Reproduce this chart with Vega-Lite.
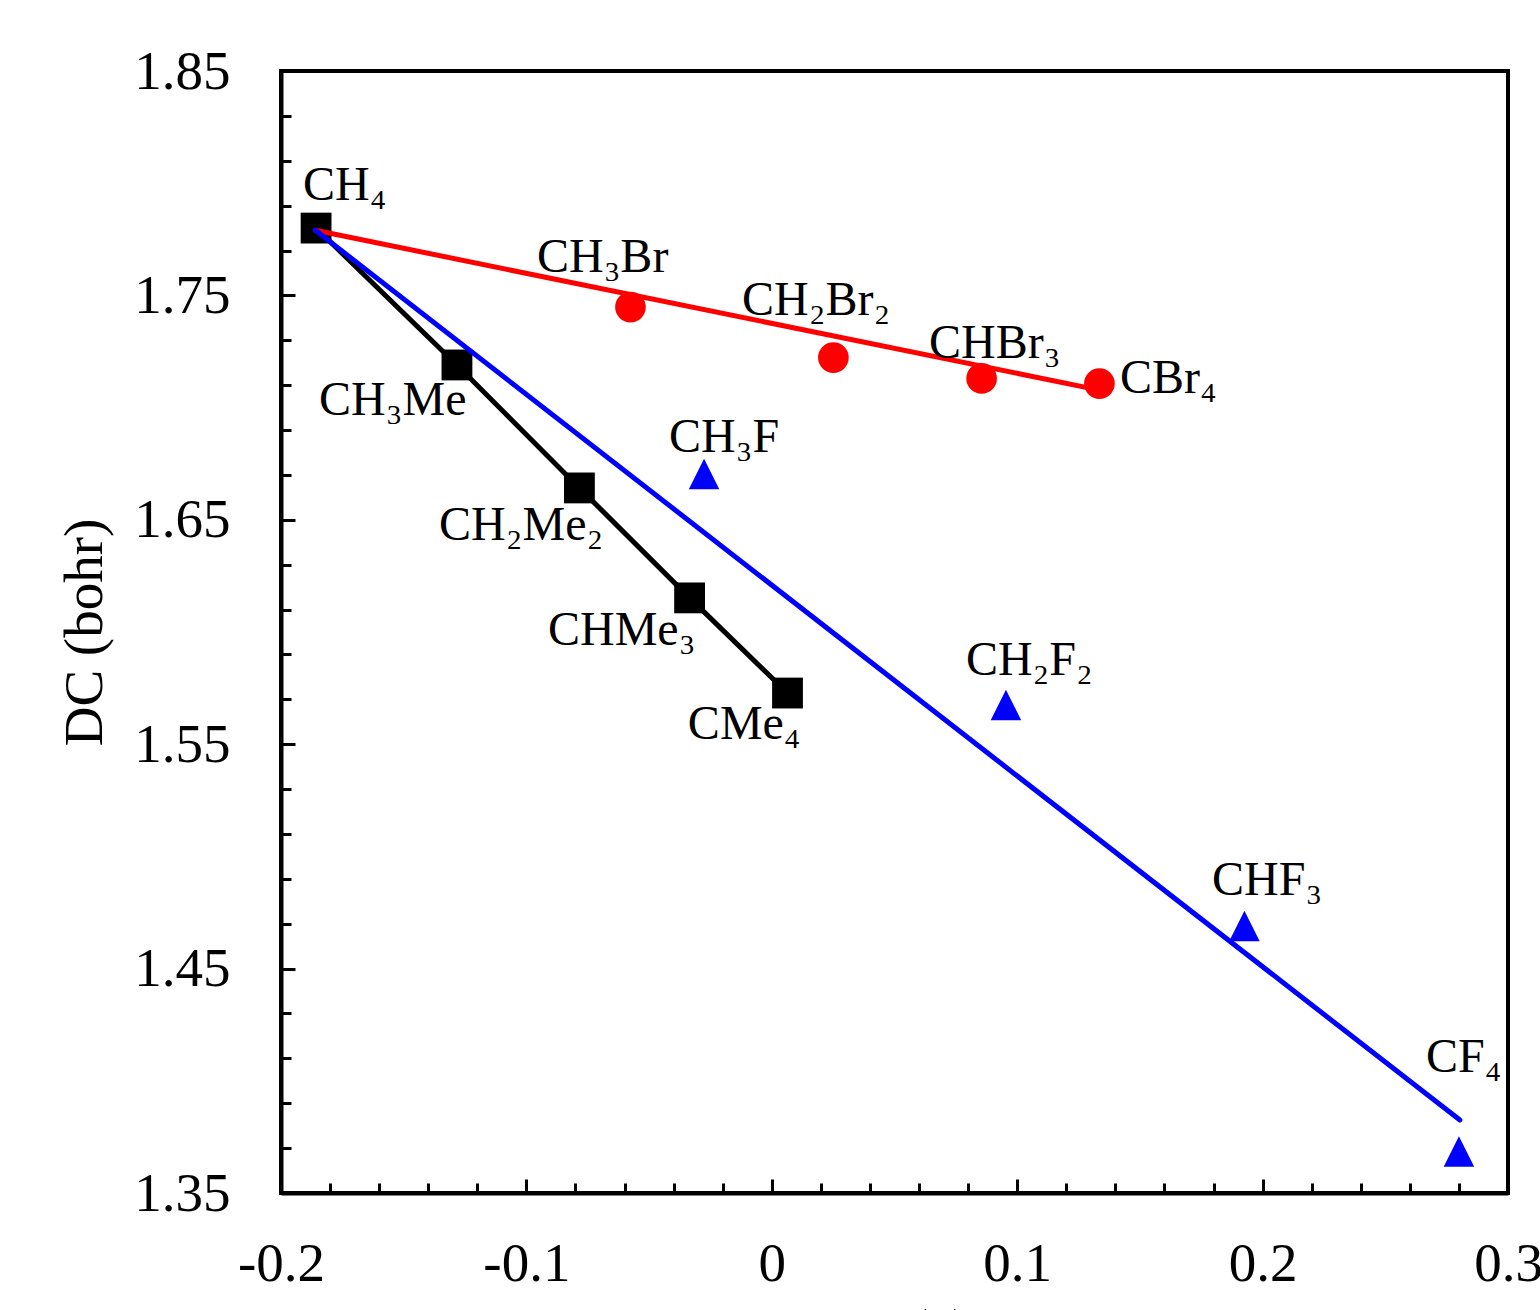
{
  "$schema": "https://vega.github.io/schema/vega-lite/v6.json",
  "width": 1227,
  "height": 1122,
  "autosize": {"type": "none"},
  "padding": {"left": 281, "top": 71, "right": 32, "bottom": 117},
  "background": "white",
  "config": {
    "view": {"stroke": "black", "strokeWidth": 4},
    "font": "Liberation Serif"
  },
  "datasets": {
    "points": [
      {"name": "CH4", "series": "Me", "q": -0.1857, "d": 1.7800},
      {"name": "CH3Me", "series": "Me", "q": -0.1283, "d": 1.7190},
      {"name": "CH2Me2", "series": "Me", "q": -0.0784, "d": 1.6642},
      {"name": "CHMe3", "series": "Me", "q": -0.0335, "d": 1.6152},
      {"name": "CMe4", "series": "Me", "q": 0.0064, "d": 1.5728},
      {"name": "CH3Br", "series": "Br", "q": -0.0576, "d": 1.7448},
      {"name": "CH2Br2", "series": "Br", "q": 0.0251, "d": 1.7223},
      {"name": "CHBr3", "series": "Br", "q": 0.0855, "d": 1.7130},
      {"name": "CBr4", "series": "Br", "q": 0.1335, "d": 1.7107},
      {"name": "CH3F", "series": "F", "q": -0.0276, "d": 1.6704},
      {"name": "CH2F2", "series": "F", "q": 0.0954, "d": 1.5675},
      {"name": "CHF3", "series": "F", "q": 0.1926, "d": 1.4690},
      {"name": "CF4", "series": "F", "q": 0.2800, "d": 1.3685}
    ],
    "fits": [
      {"series": "Br", "q": -0.1860, "d": 1.7790},
      {"series": "Br", "q": 0.1335, "d": 1.7078},
      {"series": "F", "q": -0.1860, "d": 1.7790},
      {"series": "F", "q": 0.2804, "d": 1.3825}
    ],
    "labels": [
      {"label": "CH₄", "q": -0.1910, "d": 1.7925},
      {"label": "CH₃Me", "q": -0.1845, "d": 1.6967},
      {"label": "CH₂Me₂", "q": -0.1356, "d": 1.6410},
      {"label": "CHMe₃", "q": -0.0912, "d": 1.5942},
      {"label": "CMe₄", "q": -0.0342, "d": 1.5523},
      {"label": "CH₃Br", "q": -0.0957, "d": 1.7604},
      {"label": "CH₂Br₂", "q": -0.0121, "d": 1.7413},
      {"label": "CHBr₃", "q": 0.0641, "d": 1.7221},
      {"label": "CBr₄", "q": 0.1419, "d": 1.7065},
      {"label": "CH₃F", "q": -0.0419, "d": 1.6802},
      {"label": "CH₂F₂", "q": 0.0791, "d": 1.5808},
      {"label": "CHF₃", "q": 0.1794, "d": 1.4828},
      {"label": "CF₄", "q": 0.2666, "d": 1.4039}
    ]
  },
  "encoding": {
    "x": {
      "field": "q",
      "type": "quantitative",
      "scale": {"domain": [-0.2, 0.3], "nice": false, "zero": false},
      "axis": {
        "title": "QC (e)",
        "titleFont": "Liberation Serif",
        "titleFontSize": 55,
        "titleFontWeight": "normal",
        "titleColor": "black",
        "titlePadding": 8,
        "values": [-0.2, -0.18, -0.16, -0.14, -0.12, -0.1, -0.08, -0.06, -0.04, -0.02, 0, 0.02, 0.04, 0.06, 0.08, 0.1, 0.12, 0.14, 0.16, 0.18, 0.2, 0.22, 0.24, 0.26, 0.28, 0.3],
        "labelExpr": "abs(round(datum.value*100)) % 10 == 0 ? '' + round(datum.value*10)/10 : ''",
        "labelFont": "Liberation Serif",
        "labelFontSize": 55,
        "labelColor": "black",
        "labelPadding": 58,
        "labelFlush": false,
        "labelOverlap": false,
        "labelBound": false,
        "grid": false,
        "domainColor": "black",
        "domainWidth": 4,
        "tickColor": "black",
        "tickWidth": 3,
        "tickSize": {"condition": {"test": "abs(round(datum.value*100)) % 10 == 0", "value": -14}, "value": -10}
      }
    },
    "y": {
      "field": "d",
      "type": "quantitative",
      "scale": {"domain": [1.35, 1.85], "nice": false, "zero": false},
      "axis": {
        "title": "DC (bohr)",
        "titleFont": "Liberation Serif",
        "titleFontSize": 55,
        "titleFontWeight": "normal",
        "titleColor": "black",
        "titlePadding": 20,
        "values": [1.35, 1.37, 1.39, 1.41, 1.43, 1.45, 1.47, 1.49, 1.51, 1.53, 1.55, 1.57, 1.59, 1.61, 1.63, 1.65, 1.67, 1.69, 1.71, 1.73, 1.75, 1.77, 1.79, 1.81, 1.83, 1.85],
        "labelExpr": "round(datum.value*100) % 10 == 5 ? format(datum.value, '.2f') : ''",
        "labelFont": "Liberation Serif",
        "labelFontSize": 55,
        "labelColor": "black",
        "labelPadding": 65,
        "labelFlush": false,
        "labelOverlap": false,
        "labelBound": false,
        "grid": false,
        "domainColor": "black",
        "domainWidth": 4,
        "tickColor": "black",
        "tickWidth": 3,
        "tickSize": {"condition": {"test": "round(datum.value*100) % 10 == 5", "value": -14}, "value": -10}
      }
    }
  },
  "layer": [
    {
      "data": {"name": "points"},
      "mark": {"type": "point", "filled": true, "opacity": 1},
      "encoding": {
        "shape": {"field": "series", "type": "nominal", "scale": {"domain": ["Me", "Br", "F"], "range": ["square", "circle", "M0,-1L-1,1L1,1Z"]}, "legend": null},
        "color": {"field": "series", "type": "nominal", "scale": {"domain": ["Me", "Br", "F"], "range": ["#000000", "#ff0000", "#0000ff"]}, "legend": null},
        "size": {"field": "series", "type": "nominal", "scale": {"domain": ["Me", "Br", "F"], "range": [950, 930, 841]}, "legend": null}
      }
    },
    {
      "data": {"name": "points"},
      "transform": [{"filter": "datum.series == 'Me'"}],
      "mark": {"type": "line", "strokeWidth": 5, "color": "#000000"},
      "encoding": {
        "order": {"field": "q", "type": "quantitative"}
      }
    },
    {
      "data": {"name": "fits"},
      "mark": {"type": "line", "strokeWidth": 5, "strokeCap": "round"},
      "encoding": {
        "color": {"field": "series", "type": "nominal", "scale": {"domain": ["Me", "Br", "F"], "range": ["#000000", "#ff0000", "#0000ff"]}, "legend": null},
        "order": {"field": "q", "type": "quantitative"}
      }
    },
    {
      "data": {"name": "labels"},
      "mark": {"type": "text", "align": "left", "baseline": "alphabetic", "font": "Liberation Serif", "fontSize": 48, "color": "black"},
      "encoding": {
        "text": {"field": "label", "type": "nominal"}
      }
    }
  ]
}
